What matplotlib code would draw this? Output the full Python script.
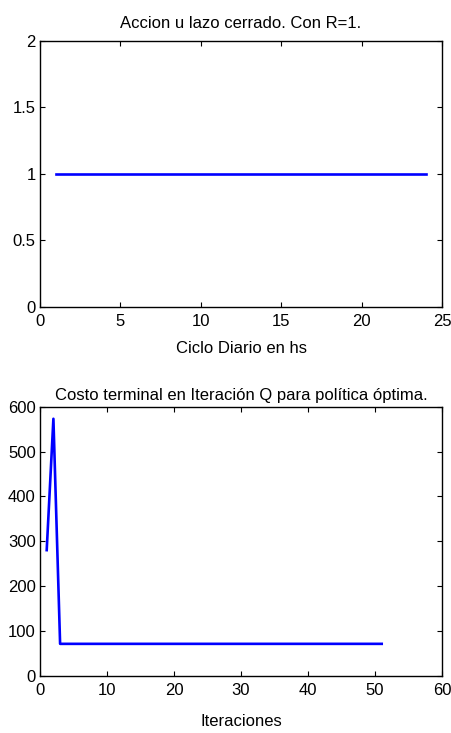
import matplotlib
matplotlib.use("Agg")
import matplotlib.pyplot as plt

plt.rcParams['font.family'] = ['Liberation Sans', 'DejaVu Sans']
plt.rcParams['font.size'] = 12

# Accion u lazo cerrado (R=1), una por hora
horas = list(range(1, 25))
accion = [1, 1, 1, 1, 1, 1, 1, 1, 1, 1, 1, 1,
          1, 1, 1, 1, 1, 1, 1, 1, 1, 1, 1, 1]

# Costo terminal por iteracion
iteraciones = list(range(1, 52))
costo = [280, 573] + [71] * 49

fig = plt.figure(figsize=(4.52, 7.33), dpi=100)
ax1 = fig.add_axes([0.0885, 0.5816, 0.8894, 0.3629])
ax2 = fig.add_axes([0.0885, 0.0782, 0.8894, 0.367])


def matlab_style(ax):
    for sp in ax.spines.values():
        sp.set_linewidth(1.0)
        sp.set_color('black')
    ax.tick_params(direction='in', length=3.5, width=0.8, top=True, right=True,
                   labelsize=12, pad=3)
    ax.tick_params(axis='x', pad=5)


ax1.plot(horas, accion, color='#0000ff', linewidth=1.9)
ax1.set_xlim(0, 25)
ax1.set_ylim(0, 2)
ax1.set_xticks([0, 5, 10, 15, 20, 25])
ax1.set_yticks([0, 0.5, 1, 1.5, 2])
ax1.set_yticklabels(['0', '0.5', '1', '1.5', '2'])
ax1.set_title('Accion u lazo cerrado. Con R=1.', fontsize=12, pad=9)
ax1.set_xlabel('Ciclo Diario en hs', fontsize=12, labelpad=9)
matlab_style(ax1)

ax2.plot(iteraciones, costo, color='#0000ff', linewidth=1.9)
ax2.set_xlim(0, 60)
ax2.set_ylim(0, 600)
ax2.set_xticks([0, 10, 20, 30, 40, 50, 60])
ax2.set_yticks([0, 100, 200, 300, 400, 500, 600])
ax2.set_title('Costo terminal en Iteración Q para política óptima.', fontsize=12, pad=5)
ax2.set_xlabel('Iteraciones', fontsize=12, labelpad=12)
matlab_style(ax2)

fig.savefig('out.png', dpi=100)
